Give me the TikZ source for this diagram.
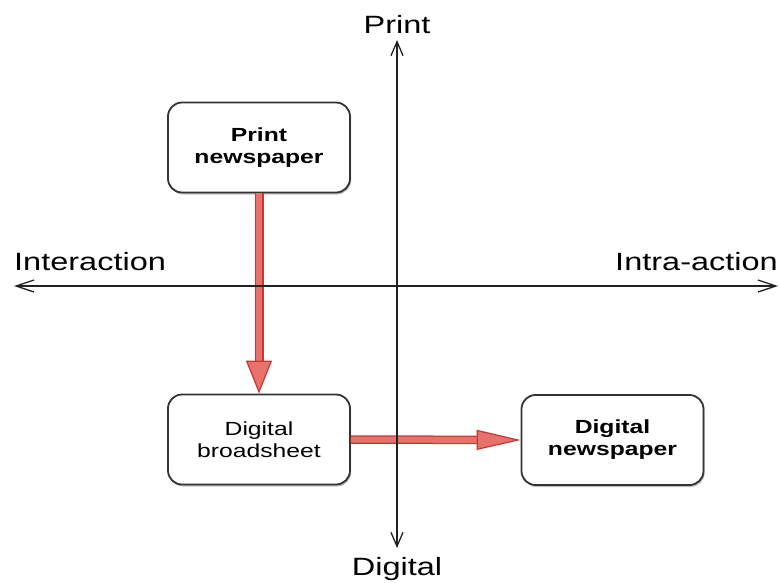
\documentclass[tikz,border=0pt]{standalone}
\usepackage{fontspec}
\setmainfont{Liberation Sans}[FakeStretch=1.3]
\usetikzlibrary{arrows.meta,shadows}
\definecolor{redfill}{HTML}{E8716B}
\definecolor{redline}{HTML}{C23A32}
\definecolor{axisgray}{HTML}{222222}
\definecolor{boxline}{HTML}{333333}
\tikzset{
  stage/.style={draw=boxline, line width=1.8pt, rounded corners=14pt, fill=white,
    minimum width=182pt, minimum height=90pt, align=center, inner sep=0pt,
    drop shadow={shadow xshift=1.2pt, shadow yshift=-2pt, opacity=0.35, fill=black!70},
    font=\fontsize{19}{22}\selectfont},
  axislabel/.style={font=\fontsize{25}{28}\selectfont, inner sep=0pt},
  axisline/.style={draw=axisgray, line width=1.3pt},
  flowv/.style={draw=redfill, line width=1pt,
    preaction={arrows=-, draw=redline, line width=9pt, shorten >=30pt},
    preaction={arrows=-, draw=redfill, line width=6.5pt, shorten >=29pt},
    -{Triangle[width=26pt, length=33pt, color=redline, fill=redfill, line width=1.2pt]}},
  flowh/.style={draw=redfill, line width=1pt,
    preaction={arrows=-, draw=redline, line width=8.5pt, shorten >=41pt},
    preaction={arrows=-, draw=redfill, line width=6pt, shorten >=40pt},
    -{Triangle[width=20pt, length=44pt, color=redline, fill=redfill, line width=1.2pt]}}
}
\begin{document}
\begin{tikzpicture}[x=1pt, y=-1pt]
\useasboundingbox (0,0) rectangle (780,582);

% the three stages
\node[stage] (pn) at (259,147.5) {\bfseries Print\\\bfseries newspaper};
\node[stage] (db) at (259,439.5) {Digital\\broadsheet};
\node[stage] (dn) at (612.5,440) {\bfseries Digital\\\bfseries newspaper};

% transitions between stages
\draw[flowv] (pn.south) -- (db.north);
\draw[flowh] (db.east) -- (dn.west);

% the two axes
\coordinate (L) at (14,286);
\coordinate (R) at (778,286);
\coordinate (T) at (397,40);
\coordinate (B) at (397,548);
\draw[axisline, {Straight Barb[length=18pt,width=12pt]}-{Straight Barb[length=18pt,width=12pt]}] (L) -- (R);
\draw[axisline, {Straight Barb[length=14pt,width=12pt]}-{Straight Barb[length=14pt,width=12pt]}] (T) -- (B);

% axis labels
\node[axislabel, anchor=base west] (inter) at (14,270) {Interaction};
\node[axislabel, anchor=base east] (intra) at (778,270) {Intra-action};
\node[axislabel, anchor=base] (print) at (397,33) {Print};
\node[axislabel, anchor=base] (digital) at (397,575) {Digital};
\end{tikzpicture}
\end{document}
